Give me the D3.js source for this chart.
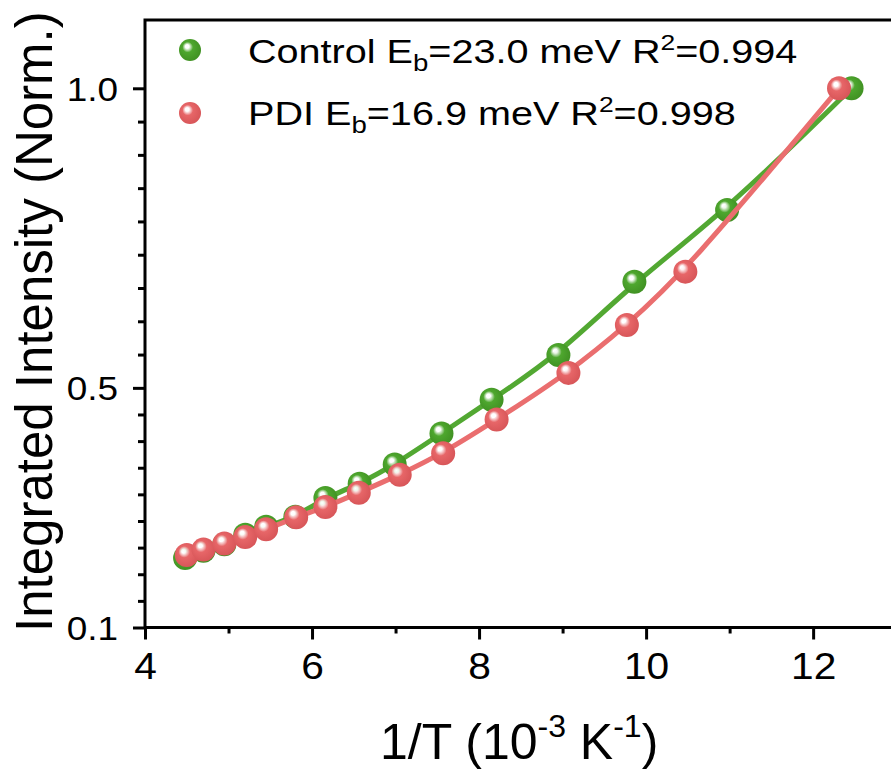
<!DOCTYPE html>
<html>
<head>
<meta charset="utf-8">
<script src="https://cdn.jsdelivr.net/npm/d3@7"></script>
<style>
  body { margin: 0; background: #fff; }
  svg { display: block; font-family: "Liberation Sans", Arial, sans-serif; }
</style>
</head>
<body>
<svg width="891" height="771"></svg>
<script>
// values
const controlX = [4.48, 4.70, 4.95, 5.20, 5.45, 5.80, 6.16, 6.57, 6.99, 7.55, 8.15, 8.95, 9.86, 10.97, 12.46];
const controlY = [0.216, 0.228, 0.239, 0.255, 0.268, 0.285, 0.316, 0.340, 0.372, 0.424, 0.480, 0.555, 0.677, 0.797, 1.0];
const pdiX = [4.50, 4.70, 4.95, 5.20, 5.45, 5.81, 6.16, 6.56, 7.05, 7.57, 8.21, 9.07, 9.77, 10.47, 12.31];
const pdiY = [0.221, 0.230, 0.240, 0.251, 0.264, 0.284, 0.301, 0.325, 0.355, 0.391, 0.447, 0.525, 0.605, 0.694, 1.0];

const xMajor = [4, 6, 8, 10, 12];
const xMinor = [5, 7, 9, 11, 13];
const yMajor = [0.1, 0.5, 1.0];
const yLabels = ["0.1", "0.5", "1.0"];
const yMinorPerGap = 8;

const svg = d3.select("svg");

const x = d3.scaleLinear().domain([4, 13.1]).range([145, 905]);
const y = d3.scaleLinear().domain([0.1, 1.114]).range([627.5, 20]);

const series = [
  {name: "control", xs: controlX, ys: controlY, line: "#52a832", ball: "#4ea72e", dark: "#3f8f22"},
  {name: "pdi", xs: pdiX, ys: pdiY, line: "#ea6e6f", ball: "#e76668", dark: "#d65457"}
];

// sphere-like markers
const defs = svg.append("defs");
series.forEach(s => {
  const g = defs.append("radialGradient")
    .attr("id", "ball-" + s.name)
    .attr("cx", 0.45).attr("cy", 0.45).attr("r", 0.6)
    .attr("fx", 0.36).attr("fy", 0.32);
  g.append("stop").attr("offset", "0%").attr("stop-color", "#ffffff");
  g.append("stop").attr("offset", "14%").attr("stop-color", "#ffffff").attr("stop-opacity", 0.9);
  g.append("stop").attr("offset", "40%").attr("stop-color", s.ball);
  g.append("stop").attr("offset", "100%").attr("stop-color", s.dark);
});

// minor y ticks
let yMinor = [];
for (let i = 0; i < yMajor.length - 1; i++) {
  const a = yMajor[i], b = yMajor[i + 1];
  for (let k = 1; k <= yMinorPerGap; k++) yMinor.push(a + (b - a) * k / (yMinorPerGap + 1));
}

// axes
const xAxis = svg.append("g")
  .attr("transform", `translate(0,${y.range()[0]})`)
  .call(d3.axisBottom(x).tickValues(xMajor).tickSize(12).tickSizeOuter(0).tickFormat(d3.format("d")));
xAxis.select(".domain").remove();
xAxis.selectAll("line").attr("stroke-width", 3);
xAxis.selectAll("text")
  .attr("y", 52).attr("dy", 0)
  .attr("font-size", 37)
  .attr("font-family", "Liberation Sans, Arial, sans-serif")
  .attr("fill", "#000")
  .attr("transform", "scale(1.1,1)");

svg.append("g")
  .attr("transform", `translate(0,${y.range()[0]})`)
  .call(d3.axisBottom(x).tickValues(xMinor).tickSize(6).tickSizeOuter(0).tickFormat(""))
  .call(g => g.select(".domain").remove())
  .selectAll("line").attr("stroke-width", 3);

const yAxis = svg.append("g")
  .attr("transform", `translate(${x.range()[0]},0)`)
  .call(d3.axisLeft(y).tickValues(yMajor).tickSize(12).tickSizeOuter(0).tickFormat((d, i) => yLabels[i]));
yAxis.select(".domain").remove();
yAxis.selectAll("line").attr("stroke-width", 3);
yAxis.selectAll("text")
  .attr("x", -24).attr("dy", "0.36em")
  .attr("font-size", 33)
  .attr("font-family", "Liberation Sans, Arial, sans-serif")
  .attr("fill", "#000")
  .attr("transform", "scale(1.12,1)");

svg.append("g")
  .attr("transform", `translate(${x.range()[0]},0)`)
  .call(d3.axisLeft(y).tickValues(yMinor).tickSize(7).tickSizeOuter(0).tickFormat(""))
  .call(g => g.select(".domain").remove())
  .selectAll("line").attr("stroke-width", 3);

// frame
svg.append("rect")
  .attr("x", x.range()[0]).attr("y", y.range()[1])
  .attr("width", x.range()[1] - x.range()[0])
  .attr("height", y.range()[0] - y.range()[1])
  .attr("fill", "none").attr("stroke", "#000").attr("stroke-width", 3);

// smooth fitted-looking curves and points
const line = d3.line()
  .x(d => x(d[0]))
  .y(d => y(d[1]))
  .curve(d3.curveBasis);

series.forEach(s => {
  const pts = s.xs.map((v, i) => [v, s.ys[i]]);
  svg.append("path")
    .datum(pts)
    .attr("d", line)
    .attr("fill", "none")
    .attr("stroke", s.line)
    .attr("stroke-width", 5);
  svg.append("g")
    .selectAll("circle")
    .data(pts)
    .enter().append("circle")
    .attr("cx", d => x(d[0]))
    .attr("cy", d => y(d[1]))
    .attr("r", 12)
    .attr("fill", `url(#ball-${s.name})`);
});

// legend
const legend = [
  {name: "control", label: "Control E", eb: "23.0", r2: "0.994", cy: 50, base: 63},
  {name: "pdi", label: "PDI E", eb: "16.9", r2: "0.998", cy: 113, base: 125}
];
legend.forEach(l => {
  svg.append("circle")
    .attr("cx", 190).attr("cy", l.cy).attr("r", 11)
    .attr("fill", `url(#ball-${l.name})`);
  const t = svg.append("text")
    .attr("transform", `translate(248,${l.base}) scale(1.2,1)`)
    .attr("font-size", 33)
    .attr("fill", "#000");
  t.append("tspan").text(l.label);
  t.append("tspan").attr("font-size", 23).attr("dy", 8).text("b");
  t.append("tspan").attr("dy", -8).text(`=${l.eb} meV R`);
  t.append("tspan").attr("font-size", 22).attr("dy", -13).text("2");
  t.append("tspan").attr("dy", 13).text(`=${l.r2}`);
});

// axis titles
const xt = svg.append("text")
  .attr("x", 380).attr("y", 759)
  .attr("font-size", 50)
  .attr("fill", "#000");
xt.append("tspan").text("1/T (10");
xt.append("tspan").attr("font-size", 32).attr("dy", -22).text("-3");
xt.append("tspan").attr("dy", 22).text(" K");
xt.append("tspan").attr("font-size", 32).attr("dy", -22).text("-1");
xt.append("tspan").attr("dy", 22).text(")");

svg.append("text")
  .attr("transform", "translate(52,632) rotate(-90)")
  .attr("font-size", 51)
  .attr("fill", "#000")
  .text("Integrated Intensity (Norm.)");
</script>
</body>
</html>
